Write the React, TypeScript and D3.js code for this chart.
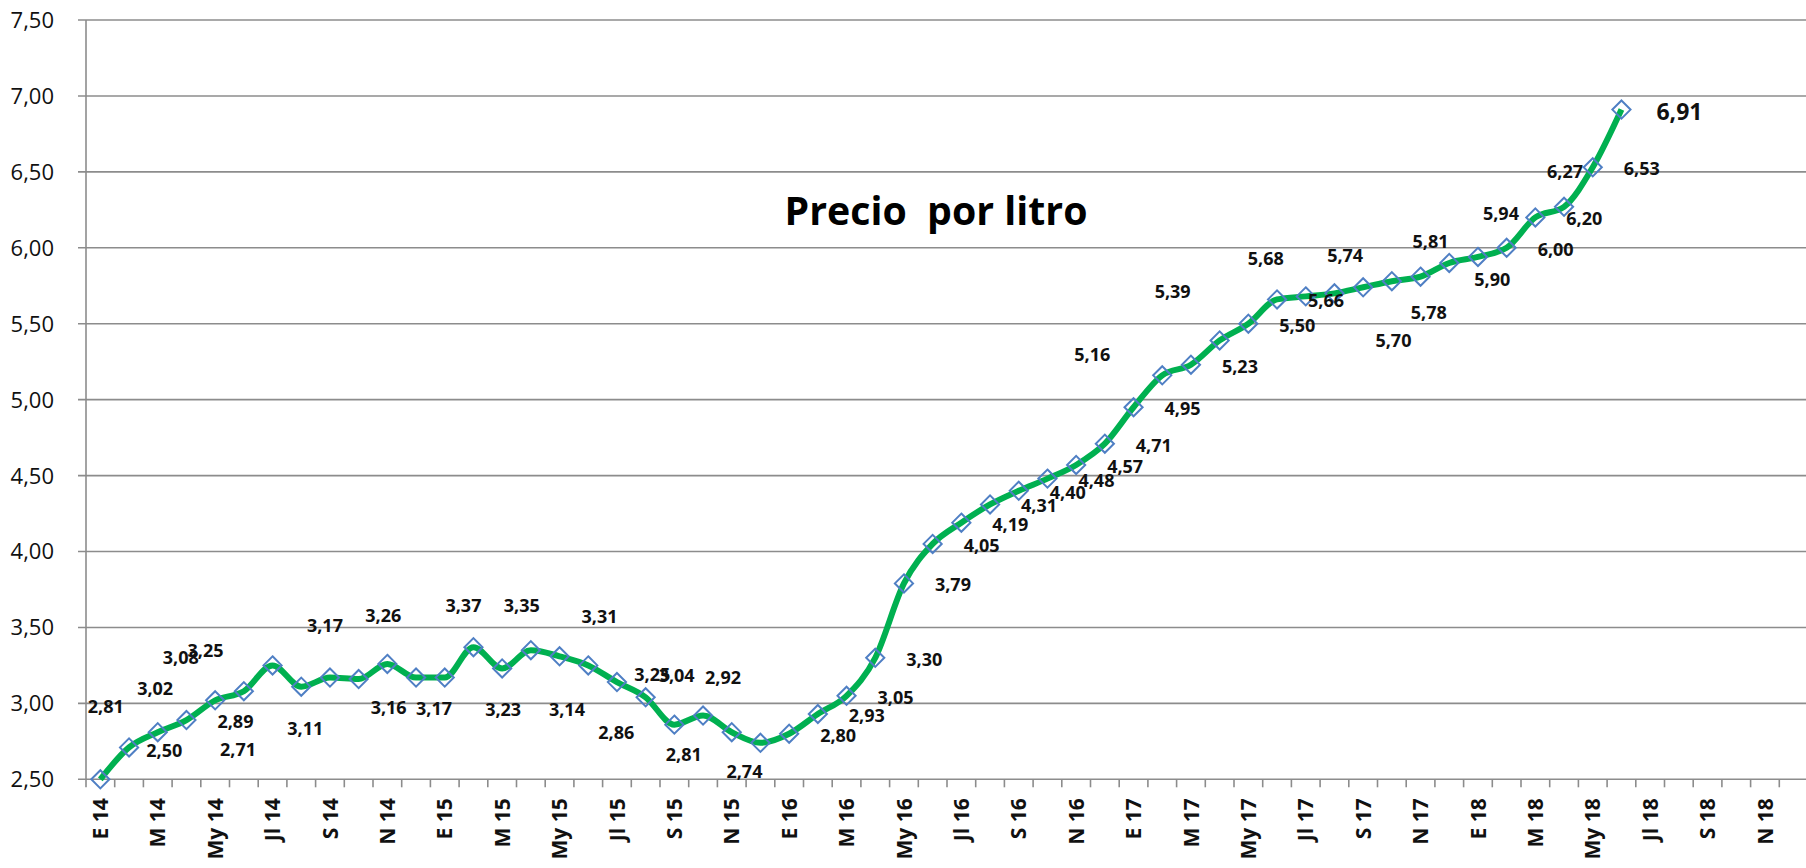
import * as d3 from 'd3';

// Monthly price per litre, Jan 2014 – Jun 2018
const values = [
  2.5, 2.71, 2.81, 2.89, 3.02, 3.08, 3.25, 3.11, 3.17, 3.16, 3.26, 3.17,
  3.17, 3.37, 3.23, 3.35, 3.31, 3.25, 3.14, 3.04, 2.86, 2.92, 2.81, 2.74,
  2.8, 2.93, 3.05, 3.3, 3.79, 4.05, 4.19, 4.31, 4.4, 4.48, 4.57, 4.71,
  4.95, 5.16, 5.23, 5.39, 5.5, 5.66, 5.68, 5.7, 5.74, 5.78, 5.81, 5.9,
  5.94, 6.0, 6.2, 6.27, 6.53, 6.91,
];

const monthCodes = ['E', 'F', 'M', 'A', 'My', 'Jn', 'Jl', 'Ag', 'S', 'O', 'N', 'D'];
const years = ['14', '15', '16', '17', '18'];
// every month gets a slot, only every other one is labelled
const categories = years.flatMap((y) => monthCodes.map((m) => `${m} ${y}`));
const shownMonths = ['E', 'M', 'My', 'Jl', 'S', 'N'];

const yTicks = [2.5, 3, 3.5, 4, 4.5, 5, 5.5, 6, 6.5, 7, 7.5];

const title = 'Precio  por litro';

// data labels were dragged around by hand in the original; offset of each
// label centre from its point, in px (null = no label shown)
const R: [number, number] = [49, 1.5];
const labelOffsets: ([number, number] | null)[] = [
  [64, -29], [109, 2], [-52, -26], R, [-60, -12], [-63, -34], [-67, -15], [4, 42],
  [-5, -52], [30, 28], [-4, -48], [18, 31], null, [-10, -42], [1, 41], [-9, -45],
  [40, -40], [64, 9], [-50, 27], [31, -22], [-58, 8], [20, -38], [-48, 22], [-16, 29],
  R, R, R, R, R, R, R, R,
  R, R, R, R, R, [-70, -21], R, [-47, -49],
  R, R, [-40, -38], [59, 47], [-18, -32], [37, 31], [10, -35], [43, 17],
  [23, -43], R, R, [1, -35], R, [58, 2],
];

const fmt = (v: number) => v.toFixed(2).replace('.', ',');

export default function App() {
  const W = 1806;
  const H = 868;
  const left = 86;
  const top = 20;
  const bottom = 779.3;
  const step = 28.7;

  const x = d3
    .scaleBand<string>()
    .domain(categories)
    .range([left, left + step * categories.length]);
  const y = d3.scaleLinear().domain([2.5, 7.5]).range([bottom, top]);

  const cx = (i: number) => x(categories[i])! + x.bandwidth() / 2;

  const line = d3
    .line<number>()
    .x((_, i) => cx(i))
    .y((d) => y(d))
    .curve(d3.curveMonotoneX);

  const diamond = d3.symbol().type(d3.symbolDiamond2).size(210)()!;

  const grid = '#8c8c8c';
  const font = '"Open Sans", "Liberation Sans", sans-serif';

  return (
    <svg
      width={W}
      height={H}
      style={{ position: 'absolute', left: 0, top: 0, background: '#fff' }}
      fontFamily={font}
    >
      {/* horizontal gridlines + y labels */}
      {yTicks.map((t) => (
        <g key={t}>
          <line x1={left - 8} x2={W} y1={y(t)} y2={y(t)} stroke={grid} strokeWidth={1.6} />
          <text
            x={54}
            y={y(t)}
            dy="0.36em"
            textAnchor="end"
            fontSize={22}
            fill="#111"
          >
            {fmt(t)}
          </text>
        </g>
      ))}

      {/* vertical axis */}
      <line x1={left} x2={left} y1={top} y2={bottom} stroke={grid} strokeWidth={1.6} />

      {/* month ticks */}
      {d3.range(categories.length + 1).map((i) => {
        const tx = left + i * step;
        return (
          <line key={i} x1={tx} x2={tx} y1={bottom} y2={bottom + 8} stroke={grid} strokeWidth={1.6} />
        );
      })}

      {/* month labels */}
      {categories.map((c, i) =>
        shownMonths.includes(c.split(' ')[0]) ? (
          <text
            key={c}
            transform={`translate(${cx(i)},${bottom + 19}) rotate(-90)`}
            dy="0.36em"
            textAnchor="end"
            fontSize={21}
            fontWeight="bold"
            fill="#111"
          >
            {c}
          </text>
        ) : null
      )}

      <text
        x={936}
        y={225}
        textAnchor="middle"
        fontSize={40}
        fontWeight="bold"
        textLength={303}
        lengthAdjust="spacingAndGlyphs"
        style={{ whiteSpace: 'pre' }}
        fill="#000"
      >
        {title}
      </text>

      <path d={line(values)!} fill="none" stroke="#00b050" strokeWidth={6} strokeLinejoin="round" />

      {values.map((v, i) => (
        <path
          key={i}
          d={diamond}
          transform={`translate(${cx(i)},${y(v)})`}
          fill="none"
          stroke="#4f7fc4"
          strokeWidth={2}
        />
      ))}

      {values.map((v, i) => {
        const off = labelOffsets[i];
        if (!off) return null;
        const last = i === values.length - 1;
        return (
          <text
            key={i}
            x={cx(i) + off[0]}
            y={y(v) + off[1]}
            dy="0.36em"
            textAnchor="middle"
            fontSize={last ? 23 : 18}
            fontWeight="bold"
            fill="#111"
          >
            {fmt(v)}
          </text>
        );
      })}
    </svg>
  );
}
